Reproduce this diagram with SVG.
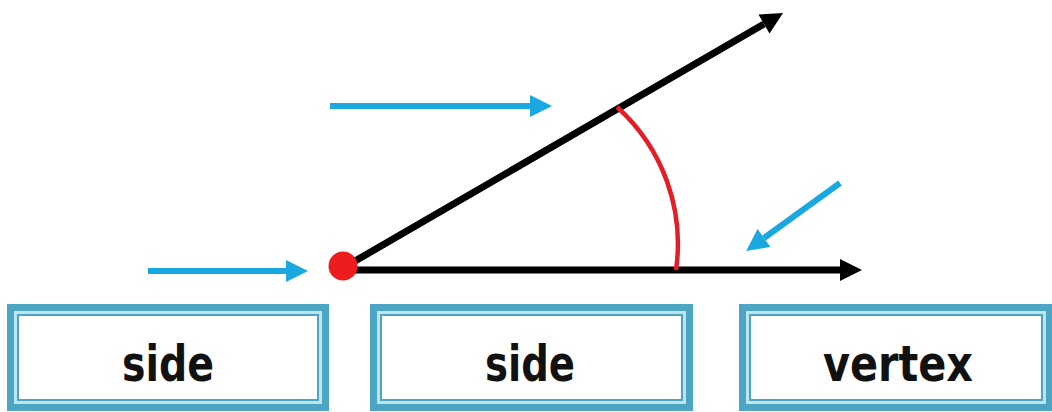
<svg xmlns="http://www.w3.org/2000/svg" width="1052" height="412" viewBox="0 0 1052 412">
<style>
.outer{fill:#ffffff;stroke:#4ba5c3;stroke-width:7}
.mid{fill:none;stroke:#bfe4ee;stroke-width:3}
.inner{fill:none;stroke:#4ba5c3;stroke-width:2}
.lbl{font-family:"DejaVu Sans",sans-serif;font-weight:bold;font-size:50px;fill:#111;text-anchor:middle}
.blk{stroke:#000;stroke-width:7;fill:none}
.blu{stroke:#1aa8e0;stroke-width:6;fill:none}
</style>
<defs>
<marker id="hb" markerUnits="userSpaceOnUse" markerWidth="24" markerHeight="24" refX="0" refY="11" orient="auto" overflow="visible">
<path d="M0,0 L22,11 L0,22 Z" fill="#000"/>
</marker>
<marker id="hl" markerUnits="userSpaceOnUse" markerWidth="24" markerHeight="24" refX="0" refY="11" orient="auto" overflow="visible">
<path d="M0,0 L22,11 L0,22 Z" fill="#1aa8e0"/>
</marker>
</defs>
<rect width="1052" height="412" fill="#ffffff"/>
<g id="connectors">
<line class="blk" x1="343" y1="268" x2="764" y2="24" marker-end="url(#hb)"/>
<line class="blk" x1="343" y1="270" x2="840" y2="270" marker-end="url(#hb)"/>
<line class="blu" x1="148" y1="271" x2="286" y2="271" marker-end="url(#hl)"/>
<line class="blu" x1="330" y1="106" x2="530" y2="106" marker-end="url(#hl)"/>
<line class="blu" x1="840" y1="183" x2="764" y2="238" marker-end="url(#hl)"/>
<path d="M617,107 A184,184 0 0 1 676,270" fill="none" stroke="#e41e26" stroke-width="4.5"/>
</g>
<g id="vertex-point">
<circle cx="343" cy="266" r="14.5" fill="#ee1c1c"/>
</g>
<g id="box-side-1">
<rect class="outer" x="10.5" y="307.5" width="315" height="100"/>
<rect class="mid" x="15.5" y="312.5" width="305" height="90"/>
<rect class="inner" x="18" y="315" width="300" height="85"/>
<text class="lbl" x="168" y="381" textLength="92" lengthAdjust="spacingAndGlyphs">side</text>
</g>
<g id="box-side-2">
<rect class="outer" x="373.5" y="307.5" width="316" height="100"/>
<rect class="mid" x="378.5" y="312.5" width="306" height="90"/>
<rect class="inner" x="381" y="315" width="301" height="85"/>
<text class="lbl" x="530" y="381" textLength="90" lengthAdjust="spacingAndGlyphs">side</text>
</g>
<g id="box-vertex">
<rect class="outer" x="742.5" y="307.5" width="307" height="100"/>
<rect class="mid" x="747.5" y="312.5" width="297" height="90"/>
<rect class="inner" x="750" y="315" width="292" height="85"/>
<text class="lbl" x="898" y="381" textLength="150" lengthAdjust="spacingAndGlyphs">vertex</text>
</g>
</svg>
